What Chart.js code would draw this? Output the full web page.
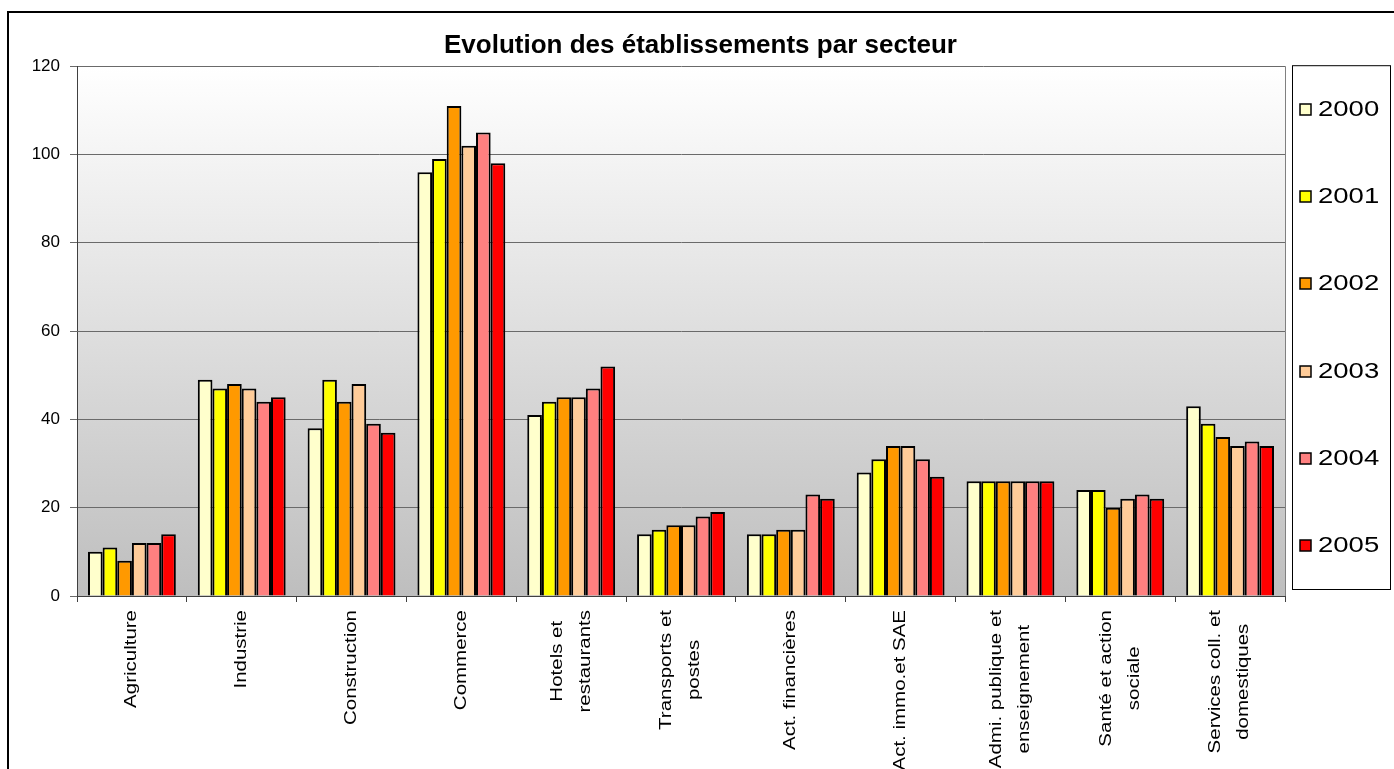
<!DOCTYPE html>
<html><head><meta charset="utf-8">
<script src="https://cdn.jsdelivr.net/npm/chart.js@4/dist/chart.umd.min.js"></script>
<style>html,body{margin:0;padding:0;background:#fff;overflow:hidden}#wrap{width:1394px;height:769px;position:relative}</style>
</head><body><div id="wrap"><canvas id="c" width="1394" height="769"></canvas></div>
<script>
const categories = [["Agriculture"],["Industrie"],["Construction"],["Commerce"],["Hotels et","restaurants"],["Transports et","postes"],["Act. financières"],["Act. immo.et SAE"],["Admi. publique et","enseignement"],["Santé et action","sociale"],["Services coll. et","domestiques"]];
const years = ["2000","2001","2002","2003","2004","2005"];
const v2000 = [10,49,38,96,41,14,14,28,26,24,43];
const v2001 = [11,47,49,99,44,15,14,31,26,24,39];
const v2002 = [8,48,44,111,45,16,15,34,26,20,36];
const v2003 = [12,47,48,102,45,16,15,34,26,22,34];
const v2004 = [12,44,39,105,47,18,23,31,26,23,35];
const v2005 = [14,45,37,98,52,19,22,27,26,22,34];
const series = [v2000,v2001,v2002,v2003,v2004,v2005];
const colors = ["#FFFFCC","#FFFF00","#FF9900","#FFCC99","#FF8080","#FF0000"];
const yMin = 0, yMax = 120, yStep = 20;
const titleText = "Evolution des établissements par secteur";

const FONT = "'Liberation Sans', Arial, sans-serif";

const decor = {
  id: 'decor',
  beforeDraw(chart) {
    const {ctx, chartArea: a} = chart;
    ctx.save();
    ctx.fillStyle = '#fff';
    ctx.fillRect(0, 0, chart.width, chart.height);
    ctx.strokeStyle = '#000';
    ctx.lineWidth = 2;
    ctx.strokeRect(8, 12, chart.width + 40, chart.height + 40);
    const g = ctx.createLinearGradient(0, a.top, 0, a.bottom);
    g.addColorStop(0, '#ffffff');
    g.addColorStop(1, '#bebebe');
    ctx.fillStyle = g;
    ctx.fillRect(a.left, a.top, a.right - a.left, a.bottom - a.top);
    ctx.strokeStyle = '#808080';
    ctx.lineWidth = 1;
    ctx.beginPath();
    ctx.moveTo(a.right + 0.5, a.top);
    ctx.lineTo(a.right + 0.5, a.bottom);
    ctx.stroke();
    ctx.restore();
  },
  afterDraw(chart) {
    const {ctx, chartArea: a} = chart;
    const xs = chart.scales.x;
    ctx.save();
    // x category labels, rotated, lines centred on each other
    ctx.fillStyle = '#000';
    ctx.font = `16px ${FONT}`;
    ctx.textBaseline = 'middle';
    ctx.textAlign = 'center';
    const S = 1.28, LS = 28, top = a.bottom + 14;
    chart.data.labels.forEach((lab, i) => {
      const lines = Array.isArray(lab) ? lab : [lab];
      const W = Math.max(...lines.map(l => ctx.measureText(l).width)) * S;
      const cx = xs.getPixelForValue(i);
      lines.forEach((l, j) => {
        const x = cx + (j - (lines.length - 1) / 2) * LS;
        ctx.save();
        ctx.translate(x, top + W / 2);
        ctx.rotate(-Math.PI / 2);
        ctx.scale(S, 1);
        ctx.fillText(l, 0, 0);
        ctx.restore();
      });
    });
    // legend
    const L = a.right + 7, T = a.top - 1, R = chart.width - 4, B = a.bottom - 7;
    ctx.fillStyle = '#fff';
    ctx.fillRect(L, T, R - L, B - T);
    ctx.strokeStyle = '#000';
    ctx.lineWidth = 1;
    ctx.strokeRect(L + 0.5, T + 0.5, R - L, B - T);
    const ds = chart.data.datasets;
    const slot = (B - T) / ds.length;
    ctx.font = `22px ${FONT}`;
    ctx.textAlign = 'left';
    ds.forEach((d, k) => {
      const cy = Math.round(T + (k + 0.5) * slot);
      ctx.fillStyle = d.backgroundColor;
      ctx.fillRect(L + 8, cy - 5, 11, 11);
      ctx.strokeStyle = '#000';
      ctx.lineWidth = 1.5;
      ctx.strokeRect(L + 8, cy - 5, 11, 11);
      ctx.fillStyle = '#000';
      ctx.save();
      ctx.translate(L + 26, cy + 1);
      ctx.scale(1.25, 1);
      ctx.fillText(d.label, 0, 0);
      ctx.restore();
    });
    ctx.restore();
  }
};

new Chart(document.getElementById('c'), {
  type: 'bar',
  data: {
    labels: categories,
    datasets: years.map((y, i) => ({
      label: y,
      data: series[i],
      backgroundColor: colors[i],
      borderColor: '#000',
      borderWidth: 2,
      categoryPercentage: 0.8,
      barPercentage: 1
    }))
  },
  options: {
    responsive: false,
    animation: false,
    devicePixelRatio: 1,
    layout: {padding: {left: 7, right: 0, top: 0, bottom: 0}},
    plugins: {
      legend: {display: false},
      tooltip: {enabled: false},
      title: {
        display: true,
        text: titleText,
        color: '#000',
        font: {family: FONT, size: 26, weight: 'bold'},
        padding: {top: 30, bottom: 5}
      }
    },
    scales: {
      x: {
        grid: {display: true, drawOnChartArea: false, drawTicks: true, tickLength: 6, color: '#404040', offset: true},
        border: {display: true, color: '#404040'},
        ticks: {display: false},
        afterFit(s) { s.height = 173; }
      },
      y: {
        min: yMin, max: yMax,
        ticks: {stepSize: yStep, color: '#000', font: {family: FONT, size: 17}, padding: 10},
        grid: {color: '#6a6a6a', tickLength: 7},
        border: {color: '#404040'},
        afterFit(s) { s.width = 70; }
      },
      yr: {
        position: 'right',
        grid: {display: false},
        border: {display: false},
        ticks: {display: false},
        afterFit(s) { s.width = 109; }
      }
    }
  },
  plugins: [decor]
});
</script>
</body></html>
